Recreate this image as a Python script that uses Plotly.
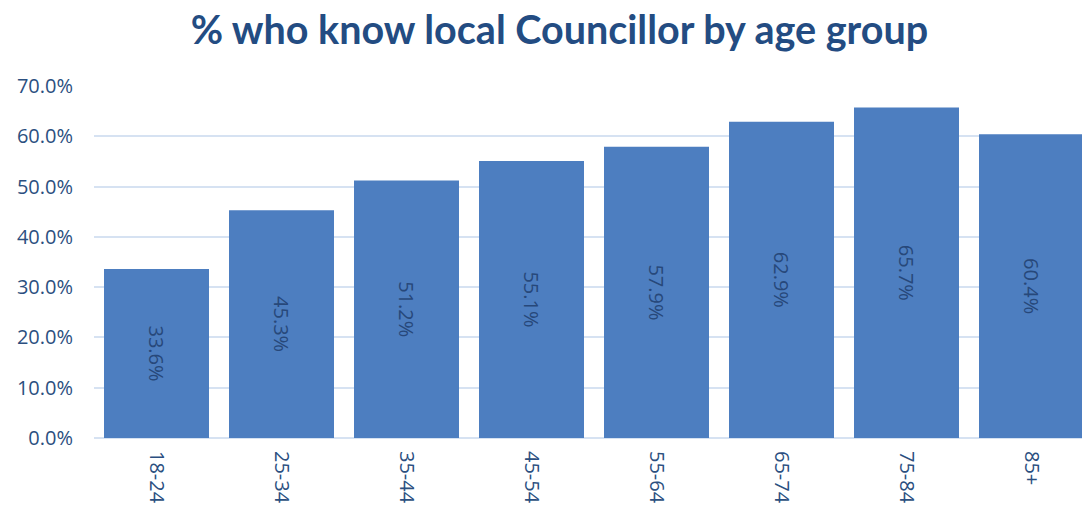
import plotly.graph_objects as go

# Survey results: share of residents who know their local Councillor
age_groups = ["18-24", "25-34", "35-44", "45-54", "55-64", "65-74", "75-84", "85+"]
pct_know = [33.6, 45.3, 51.2, 55.1, 57.9, 62.9, 65.7, 60.4]
y_ticks = [0, 10, 20, 30, 40, 50, 60, 70]
y_tick_labels = ["0.0%", "10.0%", "20.0%", "30.0%", "40.0%", "50.0%", "60.0%", "70.0%"]

text_blue = "#2B4F80"
grid_blue = "#D6E2F2"

fig = go.Figure(
    go.Bar(
        x=age_groups,
        y=pct_know,
        text=[f"{v:.1f}%" for v in pct_know],
        textposition="inside",
        insidetextanchor="middle",
        textangle=90,
        textfont=dict(family="Open Sans, sans-serif", size=20, color="#27487A"),
        marker=dict(color="#4D7EC0", line=dict(width=0)),
        hoverinfo="skip",
        cliponaxis=True,
    )
)

fig.update_layout(
    width=1082,
    height=509,
    margin=dict(l=94, r=0, t=86, b=71),
    paper_bgcolor="white",
    plot_bgcolor="white",
    bargap=0.16,
    showlegend=False,
    title=dict(
        text="<b>% who know local Councillor by age group</b>",
        x=0.517,
        xanchor="center",
        y=0.94,
        yanchor="middle",
        font=dict(family="Lato, sans-serif", size=39.5, color="#234C82"),
    ),
    xaxis=dict(
        range=[-0.5, 7.404],
        tickangle=90,
        tickfont=dict(family="Open Sans, sans-serif", size=20, color=text_blue),
        showgrid=False,
        showline=False,
        ticks="",
        ticklabelstandoff=12,
    ),
    yaxis=dict(
        range=[0, 70],
        tickvals=y_ticks,
        ticktext=y_tick_labels,
        tickfont=dict(family="Open Sans, sans-serif", size=20, color=text_blue),
        showgrid=True,
        gridcolor=grid_blue,
        gridwidth=2,
        zeroline=True,
        zerolinecolor=grid_blue,
        zerolinewidth=2,
        ticks="",
        ticklabelstandoff=20,
    ),
)

fig.write_html("out.html")
